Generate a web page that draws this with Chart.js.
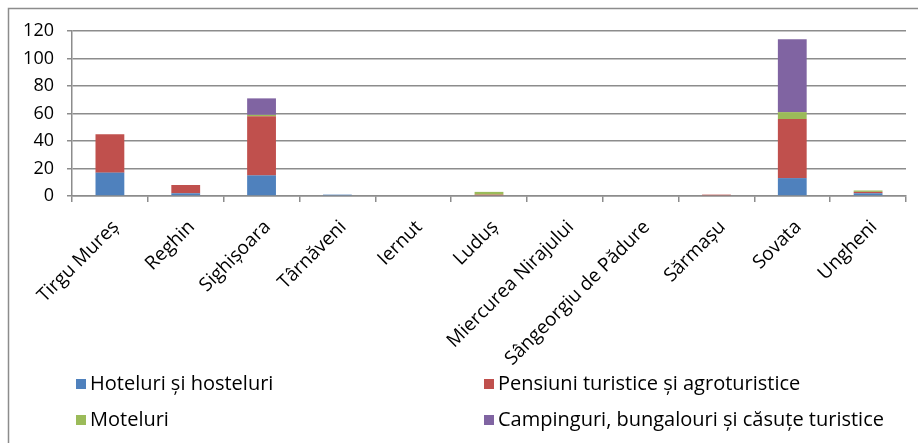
<!DOCTYPE html>
<html>
<head>
<meta charset="utf-8">
<script src="https://cdn.jsdelivr.net/npm/chart.js@4.4.1/dist/chart.umd.min.js"></script>
<style>
  html, body { margin: 0; padding: 0; background: #fff; }
  #wrap { width: 918px; height: 443px; position: relative; }
</style>
</head>
<body>
<div id="wrap"><canvas id="chart" width="918" height="443"></canvas></div>
<script>
// Localități (categorii)
const categories = ["Tirgu Mureș", "Reghin", "Sighișoara", "Târnăveni", "Iernut", "Luduș",
    "Miercurea Nirajului", "Sângeorgiu de Pădure", "Sărmașu", "Sovata", "Ungheni"];

// Serii (număr de unități)
const hoteluri   = [17, 2, 15, 1, 0, 0, 0, 0, 0, 13, 2];
const pensiuni   = [28, 6, 43, 0, 0, 1, 0, 0, 1, 43, 1];
const moteluri   = [0, 0, 1, 0, 0, 2, 0, 0, 0, 5, 1];
const campinguri = [0, 0, 12, 0, 0, 0, 0, 0, 0, 53, 0];

const seriesNames = ["Hoteluri și hosteluri", "Pensiuni turistice și agroturistice",
    "Moteluri", "Campinguri, bungalouri și căsuțe turistice"];
const yTicks = [0, 20, 40, 60, 80, 100, 120];

const FONT = "'Open Sans', 'Noto Sans', sans-serif";
const GRID = "#8c8c8c";

// Chenarul graficului și legenda pe două coloane
const framePlugin = {
    id: "frame",
    afterDraw(chart) {
        const ctx = chart.ctx;
        ctx.save();
        ctx.strokeStyle = "#8c8c8c";
        ctx.lineWidth = 1.5;
        ctx.strokeRect(8.5, 8.5, 1200, 1200);

        const cols = [76, 484];
        const rows = [384, 420];
        ctx.font = "20px " + FONT;
        ctx.textBaseline = "middle";
        chart.data.datasets.forEach((ds, i) => {
            const x = cols[i % 2];
            const y = rows[Math.floor(i / 2)];
            ctx.fillStyle = ds.backgroundColor;
            ctx.fillRect(x, y - 5, 10, 10);
            ctx.fillStyle = "#000";
            ctx.fillText(ds.label, x + 14, y);
        });
        ctx.restore();
    }
};

const ctx = document.getElementById("chart").getContext("2d");
new Chart(ctx, {
    type: "bar",
    data: {
        labels: categories,
        datasets: [
            { label: seriesNames[0], data: hoteluri, backgroundColor: "#4F81BD" },
            { label: seriesNames[1], data: pensiuni, backgroundColor: "#C0504D" },
            { label: seriesNames[2], data: moteluri, backgroundColor: "#9BBB59" },
            { label: seriesNames[3], data: campinguri, backgroundColor: "#8064A2" }
        ]
    },
    options: {
        responsive: false,
        animation: false,
        layout: { padding: { top: 31, right: 12, left: 0, bottom: 0 } },
        plugins: {
            legend: { display: false },
            tooltip: { enabled: false }
        },
        datasets: {
            bar: { barPercentage: 0.76, categoryPercentage: 0.5 }
        },
        scales: {
            x: {
                stacked: true,
                ticks: {
                    autoSkip: false,
                    maxRotation: 45,
                    minRotation: 45,
                    padding: 14,
                    labelOffset: 6,
                    color: "#000",
                    font: { family: FONT, size: 19 }
                },
                grid: {
                    drawOnChartArea: false,
                    offset: true,
                    tickLength: 6,
                    color: GRID,
                    lineWidth: 1.5
                },
                border: { color: GRID, width: 1.5 },
                afterFit(scale) { scale.height = 443 - 196; }
            },
            y: {
                stacked: true,
                min: 0,
                max: 120,
                afterBuildTicks(scale) { scale.ticks = yTicks.map(v => ({ value: v })); },
                ticks: {
                    padding: 13,
                    color: "#000",
                    font: { family: FONT, size: 18 }
                },
                grid: { color: GRID, lineWidth: 1.5, tickLength: 5 },
                border: { color: GRID, width: 1.5 },
                afterFit(scale) { scale.width = 72; }
            }
        }
    },
    plugins: [framePlugin]
});
</script>
</body>
</html>
